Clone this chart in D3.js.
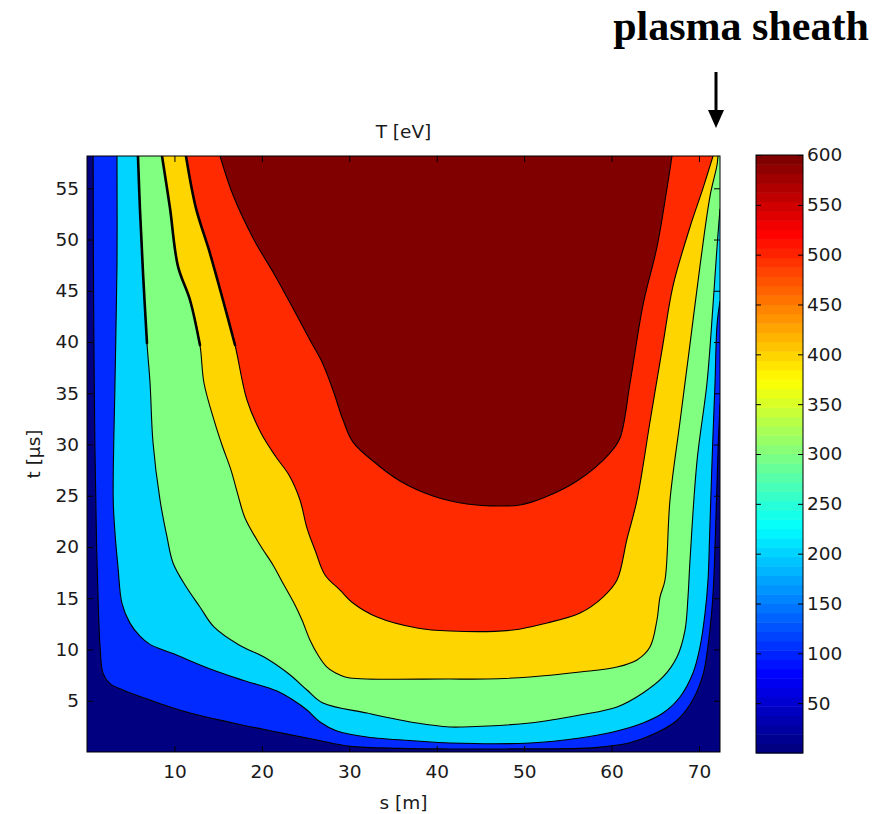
<!DOCTYPE html>
<html>
<head>
<meta charset="utf-8">
<script src="https://cdn.jsdelivr.net/npm/d3@7/dist/d3.min.js"></script>
<style>
  body { margin: 0; background: #fff; }
  .chart text { font-family: 'DejaVu Sans', sans-serif; fill: #1a1a1a; }
</style>
</head>
<body>
<div class="chart"></div>
<script>
// DATA
// ----------------------------
// contour levels of T [eV] (filled bands between them)
const levels = [0, 86, 171, 257, 343, 429, 514, 600]

// tick values
const sTicks = [10, 20, 30, 40, 50, 60, 70]
const tTicks = [5, 10, 15, 20, 25, 30, 35, 40, 45, 50, 55]
const cbTicks = [50, 100, 150, 200, 250, 300, 350, 400, 450, 500, 550, 600]

// contour lines, [s (m), t (µs)]
// each one runs from the top edge on the left, down, along the bottom and up the right side
const lvl86 = [[0.7, 58.15], [0.75, 45], [0.9, 30], [1.1, 20], [1.3, 14], [1.5, 10.2], [1.83, 7.7],
  [2.6, 6.7], [4.1, 6.05], [7.2, 5.07], [11.4, 3.9], [16.7, 2.83], [21.7, 1.95], [26.3, 1.17],
  [30.1, 0.55], [35.8, 0.35], [41.5, 0.3], [48, 0.3], [56.4, 0.35], [59, 0.5], [62.1, 0.9],
  [65.2, 1.9], [67.5, 3.1], [69.3, 5.1], [70.5, 7.7], [71.0, 10.2], [71.5, 14.2], [71.7, 17],
  [72.0, 24.6], [72.2, 30], [72.4, 34]]

const lvl171 = [[3.43, 58.15], [3.43, 47.4], [3.2, 36.0], [3.0, 24.6], [3.2, 21.4], [3.55, 18.0],
  [4.0, 14.5], [4.9, 12.6], [6.06, 11.3], [7.2, 10.5], [9.84, 9.6], [14.1, 8.1], [17.84, 7.0],
  [21.73, 5.95], [23.56, 5.07], [25.16, 4.1], [26.65, 2.93], [28.59, 2.05], [32.03, 1.46],
  [37.74, 1.07], [41.52, 0.88], [50.67, 0.88], [56.39, 1.37], [60.16, 1.95], [63.59, 2.83],
  [65.88, 3.8], [67.82, 5.37], [69.31, 7.71], [70.11, 10.24], [70.69, 13.56], [71.03, 16.78],
  [71.2, 20.78], [71.49, 28.39], [71.83, 36.0], [72.06, 41.66], [72.4, 44]]

const lvl257 = [[5.83, 58.15], [6.06, 52.9], [6.41, 46.7], [6.86, 39.9], [7.21, 36.0], [7.55, 30.2],
  [8.35, 24.6], [9.15, 20.98], [9.84, 18.44], [11.21, 16.29], [12.92, 14.15], [14.52, 12.2],
  [17.39, 10.44], [20.25, 9.27], [23.1, 7.61], [25.16, 6.05], [26.99, 4.78], [32.03, 3.8],
  [37.74, 2.83], [41.52, 2.44], [43.0, 2.44], [50.67, 2.83], [56.39, 3.61], [60.62, 4.39],
  [63.59, 5.76], [65.88, 7.32], [67.48, 9.27], [68.4, 11.9], [68.74, 15.12], [68.97, 18.7],
  [69.77, 28.39], [70.91, 36.0], [71.6, 43.6], [72.06, 49.27], [72.4, 53]]

const lvl343 = [[8.58, 58.15], [9.49, 53.07], [10.4, 47.41], [11.78, 44.1], [12.92, 39.7],
  [13.38, 36.0], [14.52, 32.4], [15.44, 29.95], [16.47, 27.5], [17.27, 25.07], [18.07, 22.83],
  [19.79, 20.2], [21.27, 18.25], [22.53, 16.29], [23.79, 14.34], [24.59, 12.88], [25.5, 10.93],
  [26.42, 9.46], [27.45, 8.29], [28.94, 7.51], [30.08, 7.22], [41.52, 7.12], [45.75, 7.12],
  [50.67, 7.32], [56.39, 7.8], [60.62, 8.29], [62.91, 8.98], [64.39, 10.24], [65.19, 12.88],
  [65.54, 15.12], [66.11, 16.78], [66.68, 24.59], [67.82, 32.2], [68.97, 39.8], [70.11, 47.41],
  [71.26, 54.24], [72.06, 57.27], [72.17, 58.15]]

const lvl429 = [[11.32, 58.15], [12.46, 53.07], [13.95, 48.98], [15.55, 44.1], [16.93, 39.71],
  [18.3, 34.34], [19.9, 31.12], [21.62, 28.78], [23.1, 27.02], [24.36, 24.59], [25.16, 21.85],
  [26.08, 19.71], [27.22, 17.27], [28.94, 15.8], [30.42, 14.54], [33.17, 13.17], [37.74, 12.1],
  [41.52, 11.8], [48.72, 11.9], [52.61, 12.59], [56.39, 13.56], [59.02, 15.12], [60.62, 16.78],
  [61.76, 20.78], [62.91, 24.59], [64.39, 32.2], [65.88, 39.8], [67.02, 45.46], [68.97, 51.22],
  [70.46, 55.02], [71.6, 58.15]]

const lvl514 = [[15.21, 58.15], [16.7, 54.34], [18.99, 50.15], [21.5, 46.5], [23.56, 43.3],
  [25.5, 40.2], [26.88, 38.05], [28.14, 35.3], [29.28, 32.4], [30.42, 30.24], [32.71, 28.39],
  [35.8, 26.44], [39.57, 24.98], [43.46, 24.2], [47.24, 24.0], [49.53, 24.1], [52.16, 24.78],
  [56.04, 26.44], [59.82, 29.17], [60.96, 30.63], [62.11, 36.0], [63.59, 43.61], [65.19, 49.27],
  [66.34, 55.02], [66.91, 58.15]]

const contourLines = [lvl86, lvl171, lvl257, lvl343, lvl429, lvl514]

// axis ranges
const sRange = [0, 72.4]
const tRange = [0, 58.15]

// SETUP
// ----------------------------
const margin = { top: 156, left: 87 }
const width = 633
const height = 596
const fullWidth = 885
const fullHeight = 814

const svg = d3.select('.chart')
  .append('svg')
    .attr('width', fullWidth)
    .attr('height', fullHeight)

const g = svg.append('g')
    .attr('transform', `translate(${margin.left}, ${margin.top})`)

// matlab jet colormap
function jet (f) {
  const c = v => Math.round(255 * Math.max(0, Math.min(1, v)))
  return d3.rgb(c(1.5 - Math.abs(4 * f - 3)), c(1.5 - Math.abs(4 * f - 2)), c(1.5 - Math.abs(4 * f - 1))).toString()
}
const nBands = levels.length - 1
const bandColor = i => jet(i / (nBands - 1))

// SCALES
// ----------------------------
const xScale = d3.scaleLinear().domain(sRange).range([0, width])
const yScale = d3.scaleLinear().domain(tRange).range([height, 0])

g.append('clipPath')
    .attr('id', 'plotclip')
  .append('rect')
    .attr('width', width)
    .attr('height', height)

const plot = g.append('g').attr('clip-path', 'url(#plotclip)')

// lowest band fills the whole box
plot.append('rect')
    .attr('width', width)
    .attr('height', height)
    .style('fill', bandColor(0))

// each higher band is the region inside its contour, closed through the top-right corner
const line = d3.line()
  .x(d => xScale(d[0]))
  .y(d => yScale(d[1]))
  .curve(d3.curveCatmullRom.alpha(0.5))
const corner = [xScale(sRange[1]), yScale(tRange[1])]

plot.selectAll('.band')
  .data(contourLines)
  .enter()
  .append('path')
    .attr('class', 'band')
    .attr('d', d => line(d) + `L${corner[0]},${corner[1]}Z`)
    .style('fill', (d, i) => bandColor(i + 1))

plot.selectAll('.cline')
  .data(contourLines)
  .enter()
  .append('path')
    .attr('class', 'cline')
    .attr('d', line)
    .style('fill', 'none')
    .style('stroke', '#000')
    .style('stroke-width', 1.1)

// the noisy upper-left part of the middle contours shows as heavy black
plot.selectAll('.rough')
  .data([lvl257, lvl343, lvl429])
  .enter()
  .append('path')
    .attr('class', 'rough')
    .attr('d', d => line(d.filter(p => p[1] > 36 && p[0] < 30)))
    .style('fill', 'none')
    .style('stroke', '#000')
    .style('stroke-width', 2.6)
    .style('stroke-linecap', 'round')

// AXES (matlab style, ticks inside on all four sides)
// ----------------------------
const tick = 6
const xAxis = d3.axisBottom(xScale).tickValues(sTicks).tickSizeInner(-tick).tickSizeOuter(0).tickPadding(13)
const yAxis = d3.axisLeft(yScale).tickValues(tTicks).tickSizeInner(-tick).tickSizeOuter(0).tickPadding(8)

g.append('g').attr('transform', `translate(0, ${height})`).call(xAxis)
g.append('g').call(yAxis)
g.append('g').call(d3.axisTop(xScale).tickValues(sTicks).tickSizeInner(-tick).tickSizeOuter(0).tickFormat(''))
g.append('g').attr('transform', `translate(${width}, 0)`)
  .call(d3.axisRight(yScale).tickValues(tTicks).tickSizeInner(-tick).tickSizeOuter(0).tickFormat(''))

g.selectAll('.domain').remove()
g.selectAll('.tick line').style('stroke', '#000')
g.selectAll('.tick text').style('font-size', '18.5px').style('font-family', "'DejaVu Sans', sans-serif").style('fill', '#1a1a1a')

g.append('rect')
    .attr('width', width)
    .attr('height', height)
    .style('fill', 'none')
    .style('stroke', '#000')
    .style('stroke-width', 1)

// LABELS
// ----------------------------
g.append('text')
    .attr('x', width / 2)
    .attr('y', -18)
    .style('text-anchor', 'middle')
    .style('font-size', '18.5px')
    .text('T [eV]')

g.append('text')
    .attr('x', width / 2)
    .attr('y', height + 57)
    .style('text-anchor', 'middle')
    .style('font-size', '18.5px')
    .text('s [m]')

g.append('text')
    .attr('transform', `translate(-47, ${height / 2}) rotate(-90)`)
    .style('text-anchor', 'middle')
    .style('font-size', '18.5px')
    .text('t [µs]')

// COLORBAR
// ----------------------------
const cb = { left: 756, top: 155, width: 47, height: 598 }
const cScale = d3.scaleLinear().domain([levels[0], levels[nBands]]).range([cb.height, 0])
const nColors = 64
const step = (levels[nBands] - levels[0]) / nColors

const cbg = svg.append('g').attr('transform', `translate(${cb.left}, ${cb.top})`)
cbg.selectAll('.cell')
  .data(d3.range(nColors))
  .enter()
  .append('rect')
    .attr('class', 'cell')
    .attr('x', 0)
    .attr('width', cb.width)
    .attr('y', i => cScale(levels[0] + (i + 1) * step))
    .attr('height', i => cScale(levels[0] + i * step) - cScale(levels[0] + (i + 1) * step) + 0.5)
    .style('fill', i => jet(i / (nColors - 1)))

cbg.append('g')
  .call(d3.axisLeft(cScale).tickValues(cbTicks).tickSizeInner(-5).tickSizeOuter(0).tickFormat(''))
cbg.append('g')
    .attr('transform', `translate(${cb.width}, 0)`)
  .call(d3.axisRight(cScale).tickValues(cbTicks).tickSizeInner(-5).tickSizeOuter(0).tickPadding(4))
cbg.selectAll('.domain').remove()
cbg.selectAll('.tick line').style('stroke', '#000')
cbg.selectAll('.tick text').style('font-size', '18.5px').style('font-family', "'DejaVu Sans', sans-serif").style('fill', '#1a1a1a')
cbg.append('rect')
    .attr('width', cb.width)
    .attr('height', cb.height)
    .style('fill', 'none')
    .style('stroke', '#000')

// ANNOTATION
// ----------------------------
svg.append('text')
    .attr('x', 741)
    .attr('y', 40)
    .style('text-anchor', 'middle')
    .style('font-family', "'Liberation Serif', 'Times New Roman', serif")
    .style('font-weight', 'bold')
    .style('font-size', '42px')
    .style('fill', '#000')
    .text('plasma sheath')

svg.append('line')
    .attr('x1', 716).attr('x2', 716)
    .attr('y1', 72).attr('y2', 113)
    .style('stroke', '#000')
    .style('stroke-width', 3)
svg.append('path')
    .attr('d', 'M708,110 L724,110 L716,128 Z')
    .style('fill', '#000')
</script>
</body>
</html>
